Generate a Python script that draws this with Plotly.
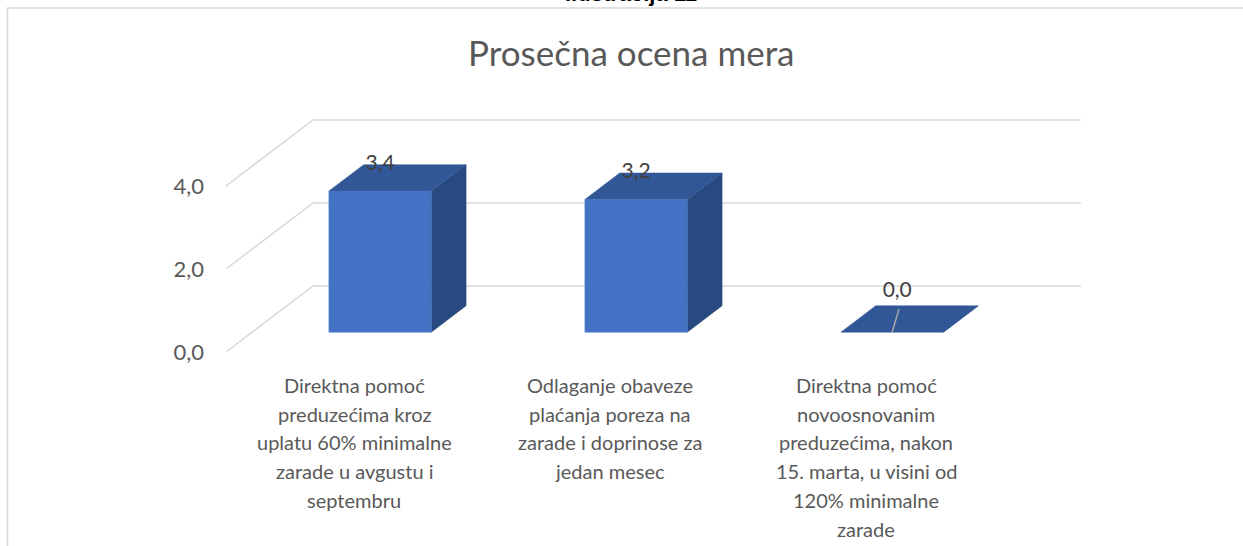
import plotly.graph_objects as go

# ---------------- data ----------------
categories = [
    "Direktna pomoć<br>preduzećima kroz<br>uplatu 60% minimalne<br>zarade u avgustu i<br>septembru",
    "Odlaganje obaveze<br>plaćanja poreza na<br>zarade i doprinose za<br>jedan mesec",
    "Direktna pomoć<br>novoosnovanim<br>preduzećima, nakon<br>15. marta, u visini od<br>120% minimalne<br>zarade",
]
values = [3.4, 3.2, 0.0]
value_labels = ["3,4", "3,2", "0,0"]
y_ticks = [0, 2, 4]
y_tick_labels = ["0,0", "2,0", "4,0"]
title_text = "Prosečna ocena mera"
caption_text = "Ilustracija 11"

# ---------------- layout geometry (pixels) ----------------
W_PX, H_PX = 1243, 546
X0_PX, SX = 354.0, 256.0      # pixel of category 0 on front plane, px per category
Y0_PX, SY = 352.0, 41.5       # pixel of value 0 on front plane, px per unit
L, R, T, B = 150, 1150, 90, 362

xrange_ = [(L - X0_PX) / SX, (R - X0_PX) / SX]
yrange_ = [(Y0_PX - B) / SY, (Y0_PX - T) / SY]

def px2paper_x(p):
    return (p - L) / (R - L)

def px2paper_y(p):
    return (B - p) / (B - T)

# 3D projection (depth offsets in axis units)
DX = 87.0 / SX
DY = 66.0 / SY
D1, D2 = 0.3, 0.7          # bar occupies this depth slice
HALF_W = 0.2               # half bar width in category units
FLOOR = (-0.5, len(categories) - 0.5)

FRONT = "#4472C4"
TOP = "#325796"
SIDE = "#294A80"
GRID = "#D9D9D9"
TXT = "#595959"
FONT = "Lato"

LABEL_LINE0_PX = 385.0     # centre of first category-label line
LABEL_LINE_H = 28.7        # category-label line pitch

def proj(x, v, d):
    return x + d * DX, v + d * DY

fig = go.Figure()

# back-wall / side-wall gridlines
gx, gy = [], []
for t in y_ticks:
    for (x, d) in [(FLOOR[0], 0), (FLOOR[0], 1), (FLOOR[1], 1)]:
        px_, py_ = proj(x, t, d)
        gx.append(px_); gy.append(py_)
    gx.append(None); gy.append(None)
fig.add_trace(go.Scatter(x=gx, y=gy, mode="lines", line=dict(color=GRID, width=1.5),
                         hoverinfo="skip", showlegend=False))

def poly(pts, color):
    xs = [p[0] for p in pts] + [pts[0][0]]
    ys = [p[1] for p in pts] + [pts[0][1]]
    fig.add_trace(go.Scatter(x=xs, y=ys, mode="lines", fill="toself", fillcolor=color,
                             line=dict(color=color, width=0.5), hoverinfo="skip",
                             showlegend=False))

for i, v in enumerate(values):
    xl, xr = i - HALF_W, i + HALF_W
    poly([proj(xr, 0, D1), proj(xr, 0, D2), proj(xr, v, D2), proj(xr, v, D1)], SIDE)
    poly([proj(xl, v, D1), proj(xr, v, D1), proj(xr, v, D2), proj(xl, v, D2)], TOP)
    if v > 0:
        poly([proj(xl, 0, D1), proj(xr, 0, D1), proj(xr, v, D1), proj(xl, v, D1)], FRONT)

# data labels
lx, ly = [], []
for i, v in enumerate(values):
    cx, _ = proj(i, v, D1)
    _, cy = proj(i, v, D2)
    if v == 0:
        sx, sy = proj(i, 0, D1)
        fig.add_trace(go.Scatter(x=[sx, sx + 0.027], y=[sy, proj(i, 0, D2 - 0.05)[1]],
                                 mode="lines", line=dict(color="#A6A6A6", width=1.5),
                                 hoverinfo="skip", showlegend=False))
        cx += 0.02
        cy += 0.33
    lx.append(cx); ly.append(cy)
fig.add_trace(go.Scatter(x=lx, y=ly, mode="text", text=value_labels,
                         textposition="middle center",
                         textfont=dict(family=FONT, size=21, color="#404040"),
                         hoverinfo="skip", showlegend=False))

annotations = [
    dict(text=title_text, xref="paper", yref="paper", x=px2paper_x(631), y=px2paper_y(52),
         xanchor="center", yanchor="middle", showarrow=False,
         font=dict(family=FONT, size=35, color=TXT)),
    dict(text="<b>" + caption_text + "</b>", xref="paper", yref="paper",
         x=px2paper_x(631), y=px2paper_y(8), xanchor="center", yanchor="bottom",
         showarrow=False, font=dict(family="Liberation Sans", size=22, color="#000000")),
]
# category labels (one annotation per line, positioned on the category axis)
for i, cat in enumerate(categories):
    for k, line in enumerate(cat.split("<br>")):
        annotations.append(dict(text=line, xref="x", yref="paper", x=i,
                                y=px2paper_y(LABEL_LINE0_PX + k * LABEL_LINE_H),
                                xanchor="center", yanchor="middle", showarrow=False,
                                font=dict(family=FONT, size=20, color=TXT)))

fig.update_layout(
    width=W_PX, height=H_PX,
    margin=dict(l=L, r=W_PX - R, t=T, b=H_PX - B, autoexpand=False),
    paper_bgcolor="white", plot_bgcolor="white",
    template=None,
    showlegend=False,
    font=dict(family=FONT, color=TXT),
    xaxis=dict(range=xrange_, tickvals=list(range(len(categories))), showticklabels=False,
               showgrid=False, zeroline=False, showline=False, ticks="",
               fixedrange=True, automargin=False),
    yaxis=dict(range=yrange_, tickmode="array", tickvals=y_ticks, ticktext=y_tick_labels,
               showgrid=False, zeroline=False, showline=False, ticks="",
               anchor="free", position=px2paper_x(204),
               tickfont=dict(family=FONT, size=22, color=TXT),
               fixedrange=True, automargin=False),
    shapes=[dict(type="rect", xref="paper", yref="paper",
                 x0=px2paper_x(7.5), x1=px2paper_x(W_PX + 20),
                 y0=px2paper_y(H_PX + 20), y1=px2paper_y(8),
                 line=dict(color=GRID, width=1.5), fillcolor="rgba(0,0,0,0)", layer="below")],
    annotations=annotations,
)

fig.write_html("out.html", config={"displayModeBar": False},
               post_script="document.body.style.margin='0';document.body.style.overflow='hidden';")
